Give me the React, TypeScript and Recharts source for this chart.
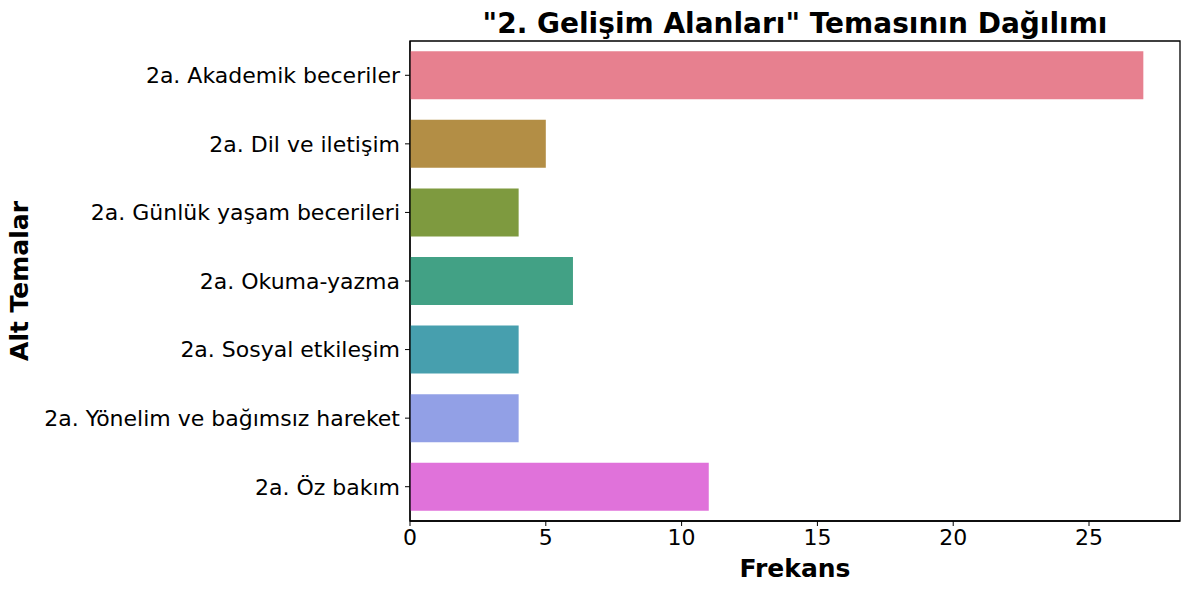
import React from 'react';
import {BarChart, Bar, XAxis, YAxis, Cell, Label, ReferenceArea} from 'recharts';

const themes = [
	'2a. Akademik beceriler',
	'2a. Dil ve iletişim',
	'2a. Günlük yaşam becerileri',
	'2a. Okuma-yazma',
	'2a. Sosyal etkileşim',
	'2a. Yönelim ve bağımsız hareket',
	'2a. Öz bakım'
];
const counts = [27, 5, 4, 6, 4, 4, 11];
const colours = ['#e7808f', '#b38e45', '#7e9a3f', '#42a185', '#479fae', '#92a0e6', '#e072da'];
const xTicks = [0, 5, 10, 15, 20, 25];
const xMax = 28.35;

const data = themes.map((name, i) => ({name, value: counts[i]}));

const font = 'DejaVu Sans, sans-serif';

export default function App() {
	return (
		<div style={{position: 'absolute', left: 0, top: 0, background: '#fff'}}>
			<BarChart
				width={1189}
				height={590}
				data={data}
				layout="vertical"
				margin={{top: 41, right: 9, bottom: 0, left: 0}}
				barCategoryGap="15%"
				style={{fontFamily: font}}
			>
				<text x={795} y={33} textAnchor="middle" fontSize={28} fontWeight="bold" fill="#000" fontFamily={font}>
					"2. Gelişim Alanları" Temasının Dağılımı
				</text>
				<XAxis
					type="number"
					domain={[0, xMax]}
					ticks={xTicks}
					allowDataOverflow
					height={69}
					tickSize={5}
					tickMargin={3}
					tick={{fill: '#000', fontSize: 22}}
					axisLine={{stroke: '#000', strokeWidth: 1.3}}
					tickLine={{stroke: '#000'}}
				>
					<Label value="Frekans" position="insideBottom" offset={13} fill="#000" fontSize={25} fontWeight="bold" />
				</XAxis>
				<YAxis
					type="category"
					dataKey="name"
					width={410}
					tickSize={5}
					tickMargin={5}
					tick={{fill: '#000', fontSize: 22}}
					axisLine={{stroke: '#000', strokeWidth: 1.3}}
					tickLine={{stroke: '#000'}}
					interval={0}
				>
					<Label value="Alt Temalar" angle={-90} position="insideLeft" offset={19} fill="#000" fontSize={25} fontWeight="bold" style={{textAnchor: 'middle'}} />
				</YAxis>
				<Bar dataKey="value" isAnimationActive={false}>
					{data.map((d, i) => (
						<Cell key={d.name} fill={colours[i]} />
					))}
				</Bar>
				<ReferenceArea x1={0} x2={xMax} fill="none" stroke="#000" strokeWidth={1.3} />
			</BarChart>
		</div>
	);
}
